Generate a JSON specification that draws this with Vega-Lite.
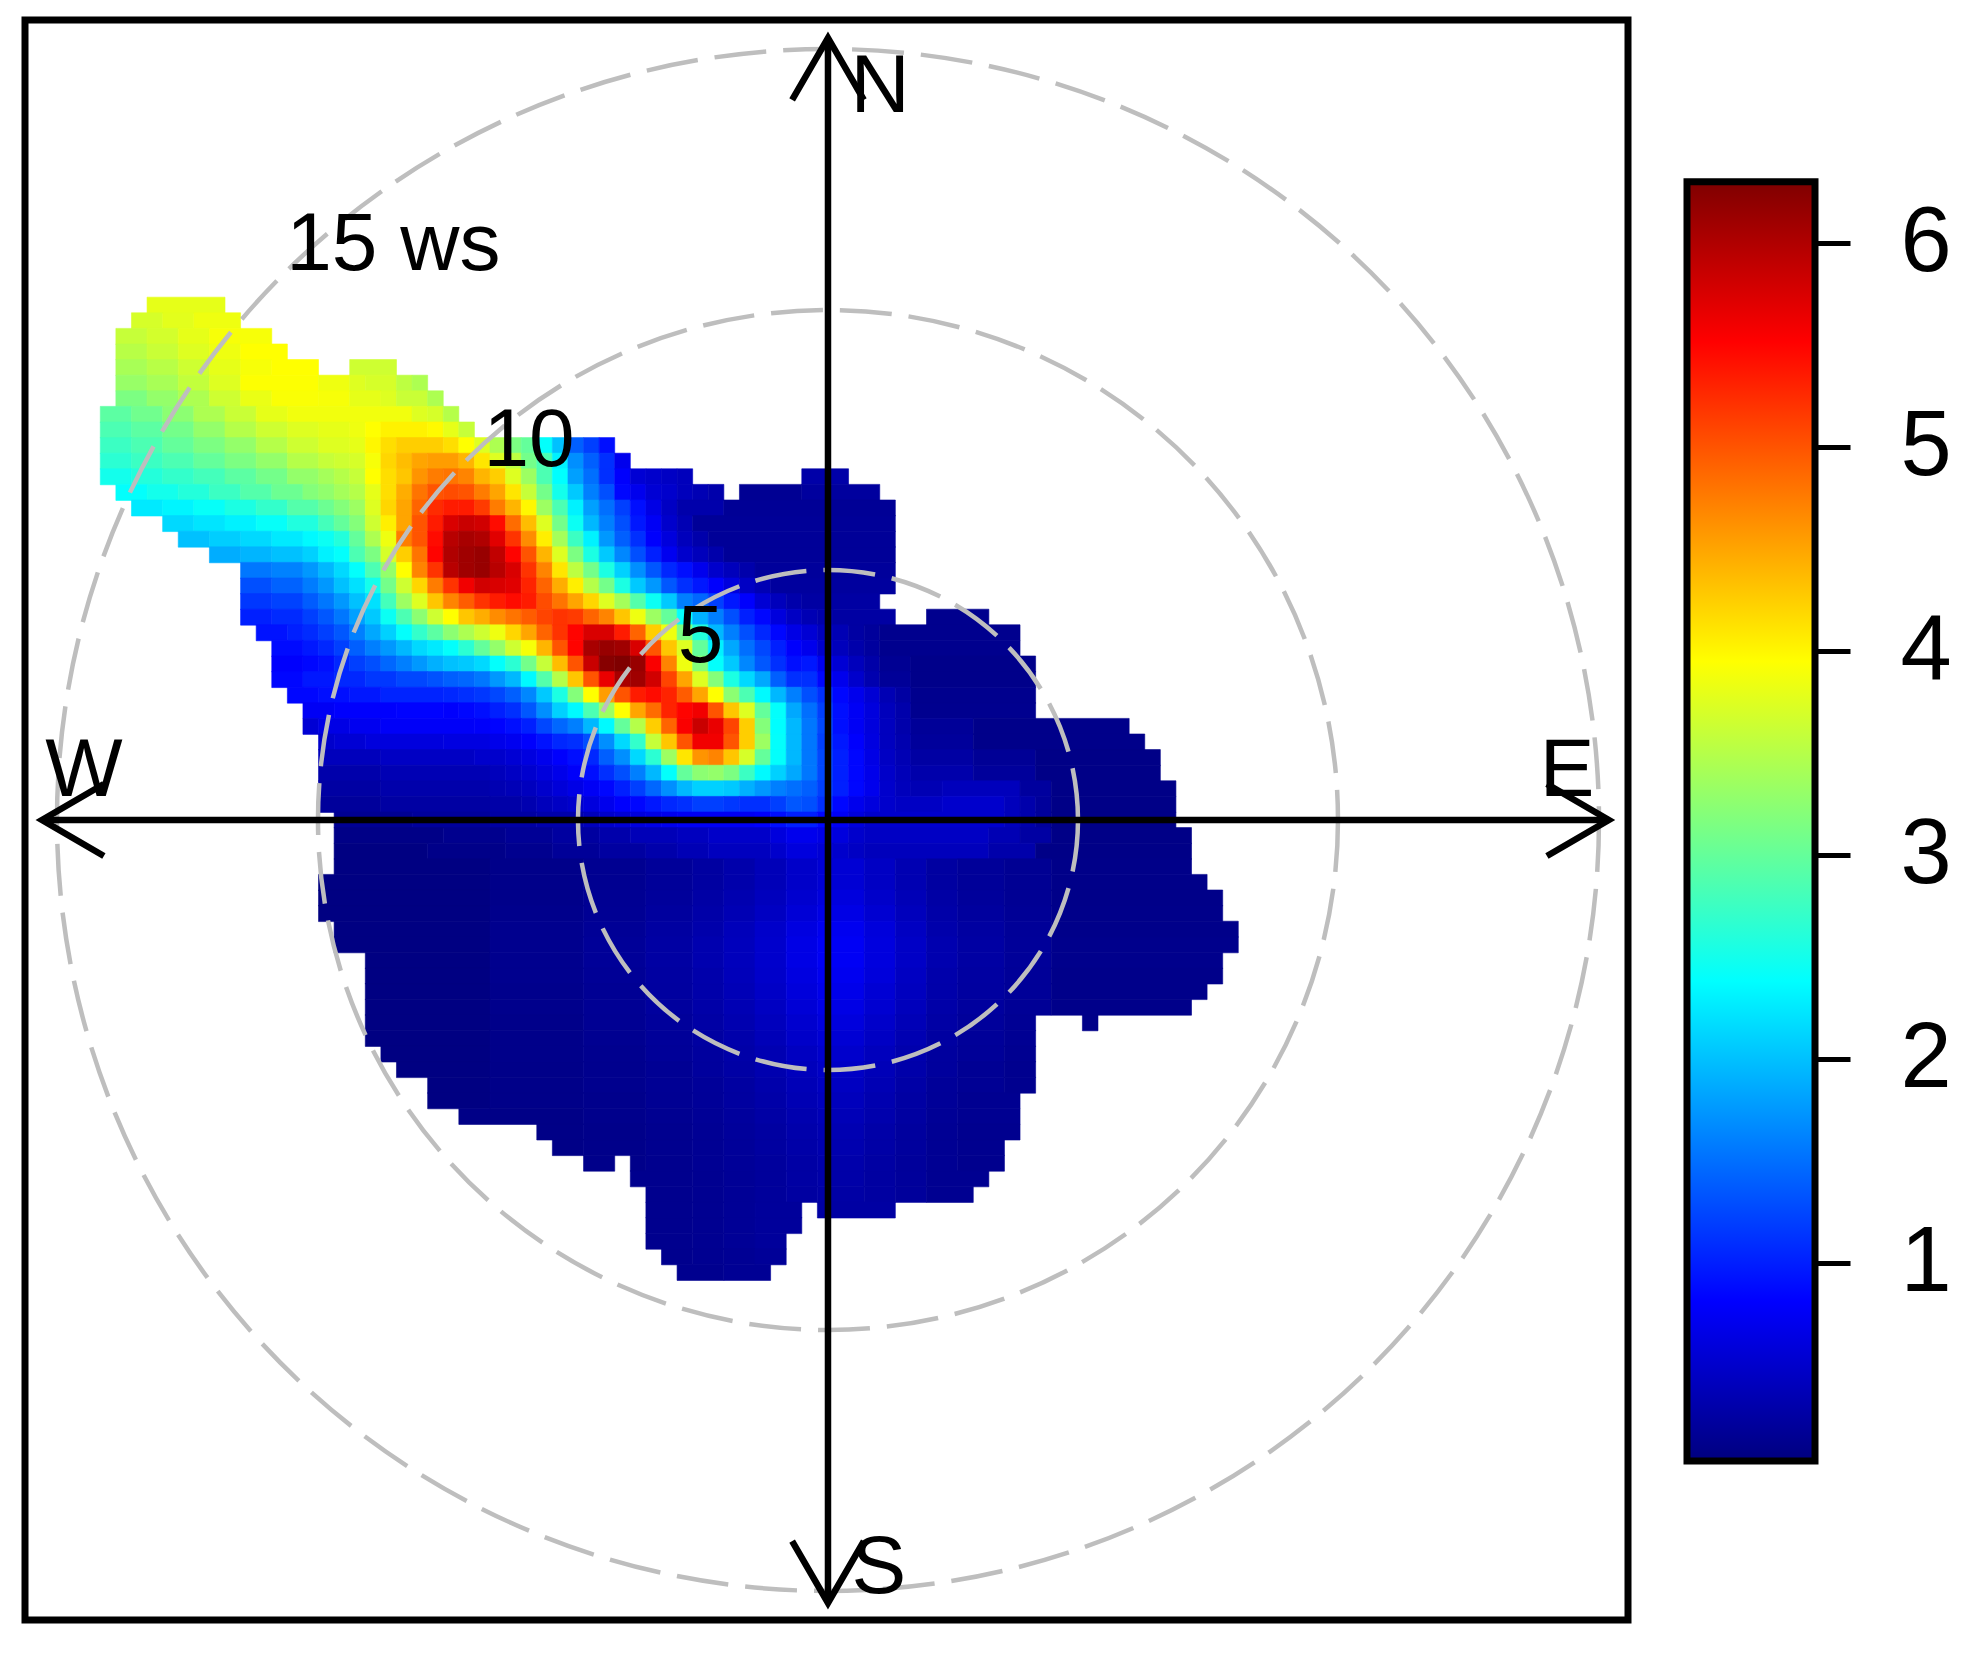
{
"$schema":"https://vega.github.io/schema/vega-lite/v6.json",
"padding":{"left":21,"top":16,"right":0,"bottom":0},
"bounds":"flush",
"spacing":59,
"background":"white",
"datasets":{
"cells":[
{"x":-43,"x2":-38,"y":33,"z":3.8},
{"x":-44,"x2":-42,"y":32,"z":3.7},{"x":-42,"x2":-40,"y":32,"z":3.78},{"x":-40,"x2":-37,"y":32,"z":3.85},
{"x":-45,"x2":-43,"y":31,"z":3.6},{"x":-43,"x2":-41,"y":31,"z":3.68},{"x":-41,"x2":-39,"y":31,"z":3.8},{"x":-39,"x2":-35,"y":31,"z":3.9},
{"x":-45,"x2":-43,"y":30,"z":3.52},{"x":-43,"x2":-41,"y":30,"z":3.62},{"x":-41,"x2":-39,"y":30,"z":3.75},{"x":-39,"x2":-37,"y":30,"z":3.85},{"x":-37,"x2":-34,"y":30,"z":3.95},
{"x":-45,"x2":-43,"y":29,"z":3.42},{"x":-43,"x2":-41,"y":29,"z":3.52},{"x":-41,"x2":-39,"y":29,"z":3.65},{"x":-39,"x2":-37,"y":29,"z":3.8},{"x":-37,"x2":-35,"y":29,"z":3.9},{"x":-35,"x2":-32,"y":29,"z":3.95},{"x":-30,"x2":-27,"y":29,"z":3.65},
{"x":-45,"x2":-43,"y":28,"z":3.32},{"x":-43,"x2":-41,"y":28,"z":3.42},{"x":-41,"x2":-39,"y":28,"z":3.58},{"x":-39,"x2":-37,"y":28,"z":3.75},{"x":-37,"x2":-32,"y":28,"z":3.94},{"x":-32,"x2":-30,"y":28,"z":3.85},{"x":-30,"x2":-29,"y":28,"z":3.75},{"x":-29,"x2":-27,"y":28,"z":3.7},{"x":-27,"x2":-26,"y":28,"z":3.55},{"x":-26,"x2":-25,"y":28,"z":3.45},
{"x":-45,"x2":-43,"y":27,"z":3.15},{"x":-43,"x2":-41,"y":27,"z":3.3},{"x":-41,"x2":-39,"y":27,"z":3.45},{"x":-39,"x2":-37,"y":27,"z":3.65},{"x":-37,"x2":-35,"y":27,"z":3.82},{"x":-35,"x2":-32,"y":27,"z":3.92},{"x":-32,"x2":-30,"y":27,"z":3.9},{"x":-30,"x2":-28,"y":27,"z":3.8},{"x":-28,"x2":-27,"y":27,"z":3.75},{"x":-27,"x2":-25,"y":27,"z":3.62},{"x":-25,"x2":-24,"y":27,"z":3.45},
{"x":-46,"x2":-44,"y":26,"z":2.95},{"x":-44,"x2":-42,"y":26,"z":3.08},{"x":-42,"x2":-40,"y":26,"z":3.25},{"x":-40,"x2":-38,"y":26,"z":3.45},{"x":-38,"x2":-36,"y":26,"z":3.62},{"x":-36,"x2":-34,"y":26,"z":3.8},{"x":-34,"x2":-26,"y":26,"z":3.87},{"x":-26,"x2":-25,"y":26,"z":3.75},{"x":-25,"x2":-24,"y":26,"z":3.7},{"x":-24,"x2":-23,"y":26,"z":3.5},
{"x":-46,"x2":-44,"y":25,"z":2.85},{"x":-44,"x2":-42,"y":25,"z":2.95},{"x":-42,"x2":-40,"y":25,"z":3.1},{"x":-40,"x2":-38,"y":25,"z":3.3},{"x":-38,"x2":-36,"y":25,"z":3.5},{"x":-36,"x2":-34,"y":25,"z":3.65},{"x":-34,"x2":-32,"y":25,"z":3.75},{"x":-32,"x2":-30,"y":25,"z":3.8},{"x":-30,"x2":-29,"y":25,"z":3.85},{"x":-29,"x2":-28,"y":25,"z":3.95},{"x":-28,"x2":-25,"y":25,"z":4.03},{"x":-25,"x2":-24,"y":25,"z":3.98},{"x":-24,"x2":-23,"y":25,"z":3.8},{"x":-23,"x2":-22,"y":25,"z":3.6},
{"x":-46,"x2":-44,"y":24,"z":2.75},{"x":-44,"x2":-42,"y":24,"z":2.85},{"x":-42,"x2":-40,"y":24,"z":3.0},{"x":-40,"x2":-38,"y":24,"z":3.15},{"x":-38,"x2":-36,"y":24,"z":3.3},{"x":-36,"x2":-34,"y":24,"z":3.5},{"x":-34,"x2":-32,"y":24,"z":3.65},{"x":-32,"x2":-30,"y":24,"z":3.75},{"x":-30,"x2":-29,"y":24,"z":3.8},{"x":-29,"x2":-28,"y":24,"z":4.0},{"x":-28,"x2":-27,"y":24,"z":4.15},{"x":-27,"x2":-24,"y":24,"z":4.25},{"x":-24,"x2":-23,"y":24,"z":4.15},{"x":-23,"x2":-22,"y":24,"z":3.95},{"x":-22,"x2":-21,"y":24,"z":3.75},{"x":-21,"x2":-20,"y":24,"z":3.45},{"x":-20,"x2":-19,"y":24,"z":3.15},{"x":-19,"x2":-18,"y":24,"z":3.0},{"x":-18,"x2":-17,"y":24,"z":2.4},{"x":-17,"x2":-16,"y":24,"z":2.0},{"x":-16,"x2":-15,"y":24,"z":1.4},{"x":-15,"x2":-14,"y":24,"z":1.2},{"x":-14,"x2":-13,"y":24,"z":0.9},
{"x":-46,"x2":-44,"y":23,"z":2.65},{"x":-44,"x2":-42,"y":23,"z":2.75},{"x":-42,"x2":-40,"y":23,"z":2.85},{"x":-40,"x2":-38,"y":23,"z":3.0},{"x":-38,"x2":-36,"y":23,"z":3.15},{"x":-36,"x2":-34,"y":23,"z":3.3},{"x":-34,"x2":-32,"y":23,"z":3.5},{"x":-32,"x2":-31,"y":23,"z":3.6},{"x":-31,"x2":-30,"y":23,"z":3.65},{"x":-30,"x2":-29,"y":23,"z":3.7},{"x":-29,"x2":-28,"y":23,"z":3.9},{"x":-28,"x2":-27,"y":23,"z":4.2},{"x":-27,"x2":-26,"y":23,"z":4.35},{"x":-26,"x2":-25,"y":23,"z":4.5},{"x":-25,"x2":-23,"y":23,"z":4.55},{"x":-23,"x2":-22,"y":23,"z":4.4},{"x":-22,"x2":-21,"y":23,"z":4.1},{"x":-21,"x2":-20,"y":23,"z":3.75},{"x":-20,"x2":-19,"y":23,"z":3.55},{"x":-19,"x2":-18,"y":23,"z":3.1},{"x":-18,"x2":-17,"y":23,"z":2.85},{"x":-17,"x2":-16,"y":23,"z":2.3},{"x":-16,"x2":-15,"y":23,"z":1.7},{"x":-15,"x2":-14,"y":23,"z":1.4},{"x":-14,"x2":-13,"y":23,"z":1.1},{"x":-13,"x2":-12,"y":23,"z":0.7},
{"x":-46,"x2":-44,"y":22,"z":2.5},{"x":-44,"x2":-42,"y":22,"z":2.6},{"x":-42,"x2":-40,"y":22,"z":2.7},{"x":-40,"x2":-38,"y":22,"z":2.8},{"x":-38,"x2":-36,"y":22,"z":2.95},{"x":-36,"x2":-34,"y":22,"z":3.1},{"x":-34,"x2":-32,"y":22,"z":3.3},{"x":-32,"x2":-31,"y":22,"z":3.4},{"x":-31,"x2":-30,"y":22,"z":3.5},{"x":-30,"x2":-29,"y":22,"z":3.6},{"x":-29,"x2":-28,"y":22,"z":3.95},{"x":-28,"x2":-27,"y":22,"z":4.15},{"x":-27,"x2":-26,"y":22,"z":4.3},{"x":-26,"x2":-25,"y":22,"z":4.6},{"x":-25,"x2":-24,"y":22,"z":4.75},{"x":-24,"x2":-23,"y":22,"z":4.8},{"x":-23,"x2":-22,"y":22,"z":4.7},{"x":-22,"x2":-21,"y":22,"z":4.4},{"x":-21,"x2":-20,"y":22,"z":4.25},{"x":-20,"x2":-19,"y":22,"z":3.75},{"x":-19,"x2":-18,"y":22,"z":3.35},{"x":-18,"x2":-17,"y":22,"z":2.85},{"x":-17,"x2":-16,"y":22,"z":2.38},{"x":-16,"x2":-15,"y":22,"z":1.8},{"x":-15,"x2":-14,"y":22,"z":1.5},{"x":-14,"x2":-13,"y":22,"z":1.1},{"x":-13,"x2":-12,"y":22,"z":0.8},{"x":-12,"x2":-11,"y":22,"z":0.55},{"x":-11,"x2":-10,"y":22,"z":0.5},{"x":-10,"x2":-9,"y":22,"z":0.45},{"x":-9,"x2":-8,"y":22,"z":0.4},{"x":-1,"x2":2,"y":22,"z":0.28},
{"x":-45,"x2":-43,"y":21,"z":2.4},{"x":-43,"x2":-41,"y":21,"z":2.5},{"x":-41,"x2":-39,"y":21,"z":2.6},{"x":-39,"x2":-37,"y":21,"z":2.75},{"x":-37,"x2":-35,"y":21,"z":2.9},{"x":-35,"x2":-33,"y":21,"z":3.05},{"x":-33,"x2":-32,"y":21,"z":3.2},{"x":-32,"x2":-31,"y":21,"z":3.28},{"x":-31,"x2":-30,"y":21,"z":3.4},{"x":-30,"x2":-29,"y":21,"z":3.5},{"x":-29,"x2":-28,"y":21,"z":3.8},{"x":-28,"x2":-27,"y":21,"z":4.15},{"x":-27,"x2":-26,"y":21,"z":4.45},{"x":-26,"x2":-25,"y":21,"z":4.8},{"x":-25,"x2":-24,"y":21,"z":5.0},{"x":-24,"x2":-23,"y":21,"z":5.05},{"x":-23,"x2":-22,"y":21,"z":5.0},{"x":-22,"x2":-21,"y":21,"z":4.75},{"x":-21,"x2":-20,"y":21,"z":4.5},{"x":-20,"x2":-19,"y":21,"z":4.1},{"x":-19,"x2":-18,"y":21,"z":3.6},{"x":-18,"x2":-17,"y":21,"z":3.1},{"x":-17,"x2":-16,"y":21,"z":2.5},{"x":-16,"x2":-15,"y":21,"z":2.05},{"x":-15,"x2":-14,"y":21,"z":1.6},{"x":-14,"x2":-13,"y":21,"z":1.3},{"x":-13,"x2":-12,"y":21,"z":0.85},{"x":-12,"x2":-11,"y":21,"z":0.7},{"x":-11,"x2":-10,"y":21,"z":0.55},{"x":-10,"x2":-9,"y":21,"z":0.5},{"x":-9,"x2":-8,"y":21,"z":0.4},{"x":-8,"x2":-7,"y":21,"z":0.35},{"x":-7,"x2":-6,"y":21,"z":0.3},{"x":-5,"x2":-1,"y":21,"z":0.15},{"x":-1,"x2":4,"y":21,"z":0.22},
{"x":-44,"x2":-42,"y":20,"z":2.25},{"x":-42,"x2":-40,"y":20,"z":2.32},{"x":-40,"x2":-38,"y":20,"z":2.42},{"x":-38,"x2":-36,"y":20,"z":2.55},{"x":-36,"x2":-34,"y":20,"z":2.7},{"x":-34,"x2":-32,"y":20,"z":2.9},{"x":-32,"x2":-31,"y":20,"z":3.05},{"x":-31,"x2":-30,"y":20,"z":3.2},{"x":-30,"x2":-29,"y":20,"z":3.35},{"x":-29,"x2":-28,"y":20,"z":3.75},{"x":-28,"x2":-27,"y":20,"z":4.2},{"x":-27,"x2":-26,"y":20,"z":4.5},{"x":-26,"x2":-25,"y":20,"z":4.9},{"x":-25,"x2":-24,"y":20,"z":5.25},{"x":-24,"x2":-23,"y":20,"z":5.35},{"x":-23,"x2":-22,"y":20,"z":5.35},{"x":-22,"x2":-21,"y":20,"z":5.15},{"x":-21,"x2":-20,"y":20,"z":4.75},{"x":-20,"x2":-19,"y":20,"z":4.4},{"x":-19,"x2":-18,"y":20,"z":4.0},{"x":-18,"x2":-17,"y":20,"z":3.35},{"x":-17,"x2":-16,"y":20,"z":2.85},{"x":-16,"x2":-15,"y":20,"z":2.3},{"x":-15,"x2":-14,"y":20,"z":1.8},{"x":-14,"x2":-13,"y":20,"z":1.5},{"x":-13,"x2":-12,"y":20,"z":1.2},{"x":-12,"x2":-11,"y":20,"z":0.9},{"x":-11,"x2":-10,"y":20,"z":0.65},{"x":-10,"x2":-9,"y":20,"z":0.45},{"x":-9,"x2":-6,"y":20,"z":0.3},{"x":-6,"x2":5,"y":20,"z":0.17},
{"x":-42,"x2":-40,"y":19,"z":2.15},{"x":-40,"x2":-38,"y":19,"z":2.22},{"x":-38,"x2":-36,"y":19,"z":2.3},{"x":-36,"x2":-34,"y":19,"z":2.42},{"x":-34,"x2":-32,"y":19,"z":2.58},{"x":-32,"x2":-31,"y":19,"z":2.8},{"x":-31,"x2":-30,"y":19,"z":3.0},{"x":-30,"x2":-29,"y":19,"z":3.2},{"x":-29,"x2":-28,"y":19,"z":3.65},{"x":-28,"x2":-27,"y":19,"z":4.05},{"x":-27,"x2":-26,"y":19,"z":4.5},{"x":-26,"x2":-25,"y":19,"z":5.0},{"x":-25,"x2":-24,"y":19,"z":5.35},{"x":-24,"x2":-23,"y":19,"z":5.75},{"x":-23,"x2":-22,"y":19,"z":5.85},{"x":-22,"x2":-21,"y":19,"z":5.8},{"x":-21,"x2":-20,"y":19,"z":5.45},{"x":-20,"x2":-19,"y":19,"z":4.85},{"x":-19,"x2":-18,"y":19,"z":4.35},{"x":-18,"x2":-17,"y":19,"z":3.75},{"x":-17,"x2":-16,"y":19,"z":3.1},{"x":-16,"x2":-15,"y":19,"z":2.45},{"x":-15,"x2":-14,"y":19,"z":1.95},{"x":-14,"x2":-13,"y":19,"z":1.6},{"x":-13,"x2":-12,"y":19,"z":1.3},{"x":-12,"x2":-11,"y":19,"z":0.95},{"x":-11,"x2":-10,"y":19,"z":0.75},{"x":-10,"x2":-9,"y":19,"z":0.5},{"x":-9,"x2":-8,"y":19,"z":0.35},{"x":-8,"x2":5,"y":19,"z":0.18},
{"x":-41,"x2":-39,"y":18,"z":2.0},{"x":-39,"x2":-37,"y":18,"z":2.08},{"x":-37,"x2":-35,"y":18,"z":2.15},{"x":-35,"x2":-33,"y":18,"z":2.25},{"x":-33,"x2":-32,"y":18,"z":2.35},{"x":-32,"x2":-31,"y":18,"z":2.45},{"x":-31,"x2":-30,"y":18,"z":2.6},{"x":-30,"x2":-29,"y":18,"z":3.0},{"x":-29,"x2":-28,"y":18,"z":3.45},{"x":-28,"x2":-27,"y":18,"z":3.85},{"x":-27,"x2":-26,"y":18,"z":4.75},{"x":-26,"x2":-25,"y":18,"z":5.0},{"x":-25,"x2":-24,"y":18,"z":5.45},{"x":-24,"x2":-23,"y":18,"z":5.95},{"x":-23,"x2":-22,"y":18,"z":6.05},{"x":-22,"x2":-21,"y":18,"z":6.0},{"x":-21,"x2":-20,"y":18,"z":5.7},{"x":-20,"x2":-19,"y":18,"z":5.2},{"x":-19,"x2":-18,"y":18,"z":4.65},{"x":-18,"x2":-17,"y":18,"z":4.05},{"x":-17,"x2":-16,"y":18,"z":3.4},{"x":-16,"x2":-15,"y":18,"z":2.75},{"x":-15,"x2":-14,"y":18,"z":2.3},{"x":-14,"x2":-13,"y":18,"z":1.75},{"x":-13,"x2":-12,"y":18,"z":1.4},{"x":-12,"x2":-11,"y":18,"z":1.1},{"x":-11,"x2":-10,"y":18,"z":0.8},{"x":-10,"x2":-9,"y":18,"z":0.6},{"x":-9,"x2":-8,"y":18,"z":0.4},{"x":-8,"x2":-7,"y":18,"z":0.3},{"x":-7,"x2":5,"y":18,"z":0.18},
{"x":-39,"x2":-37,"y":17,"z":1.88},{"x":-37,"x2":-35,"y":17,"z":1.93},{"x":-35,"x2":-33,"y":17,"z":2.0},{"x":-33,"x2":-32,"y":17,"z":2.1},{"x":-32,"x2":-31,"y":17,"z":2.3},{"x":-31,"x2":-30,"y":17,"z":2.4},{"x":-30,"x2":-29,"y":17,"z":2.85},{"x":-29,"x2":-28,"y":17,"z":3.15},{"x":-28,"x2":-27,"y":17,"z":3.7},{"x":-27,"x2":-26,"y":17,"z":4.25},{"x":-26,"x2":-25,"y":17,"z":4.8},{"x":-25,"x2":-24,"y":17,"z":5.5},{"x":-24,"x2":-23,"y":17,"z":6.0},{"x":-23,"x2":-22,"y":17,"z":6.1},{"x":-22,"x2":-21,"y":17,"z":6.15},{"x":-21,"x2":-20,"y":17,"z":5.9},{"x":-20,"x2":-19,"y":17,"z":5.5},{"x":-19,"x2":-18,"y":17,"z":5.0},{"x":-18,"x2":-17,"y":17,"z":4.4},{"x":-17,"x2":-16,"y":17,"z":3.75},{"x":-16,"x2":-15,"y":17,"z":3.15},{"x":-15,"x2":-14,"y":17,"z":2.55},{"x":-14,"x2":-13,"y":17,"z":2.05},{"x":-13,"x2":-12,"y":17,"z":1.65},{"x":-12,"x2":-11,"y":17,"z":1.3},{"x":-11,"x2":-10,"y":17,"z":1.0},{"x":-10,"x2":-9,"y":17,"z":0.72},{"x":-9,"x2":-8,"y":17,"z":0.5},{"x":-8,"x2":-7,"y":17,"z":0.4},{"x":-7,"x2":-6,"y":17,"z":0.3},{"x":-6,"x2":5,"y":17,"z":0.18},
{"x":-37,"x2":-35,"y":16,"z":1.55},{"x":-35,"x2":-33,"y":16,"z":1.62},{"x":-33,"x2":-32,"y":16,"z":1.75},{"x":-32,"x2":-31,"y":16,"z":1.95},{"x":-31,"x2":-30,"y":16,"z":2.15},{"x":-30,"x2":-29,"y":16,"z":2.4},{"x":-29,"x2":-28,"y":16,"z":2.85},{"x":-28,"x2":-27,"y":16,"z":3.3},{"x":-27,"x2":-26,"y":16,"z":3.95},{"x":-26,"x2":-25,"y":16,"z":4.7},{"x":-25,"x2":-24,"y":16,"z":5.2},{"x":-24,"x2":-23,"y":16,"z":5.95},{"x":-23,"x2":-22,"y":16,"z":6.1},{"x":-22,"x2":-21,"y":16,"z":6.15},{"x":-21,"x2":-20,"y":16,"z":5.95},{"x":-20,"x2":-19,"y":16,"z":5.75},{"x":-19,"x2":-18,"y":16,"z":5.2},{"x":-18,"x2":-17,"y":16,"z":4.7},{"x":-17,"x2":-16,"y":16,"z":4.1},{"x":-16,"x2":-15,"y":16,"z":3.55},{"x":-15,"x2":-14,"y":16,"z":3.1},{"x":-14,"x2":-13,"y":16,"z":2.55},{"x":-13,"x2":-12,"y":16,"z":2.1},{"x":-12,"x2":-11,"y":16,"z":1.7},{"x":-11,"x2":-10,"y":16,"z":1.35},{"x":-10,"x2":-9,"y":16,"z":1.05},{"x":-9,"x2":-8,"y":16,"z":0.9},{"x":-8,"x2":-7,"y":16,"z":0.7},{"x":-7,"x2":-6,"y":16,"z":0.5},{"x":-6,"x2":-5,"y":16,"z":0.4},{"x":-5,"x2":-4,"y":16,"z":0.3},{"x":-4,"x2":5,"y":16,"z":0.2},
{"x":-37,"x2":-35,"y":15,"z":1.3},{"x":-35,"x2":-33,"y":15,"z":1.42},{"x":-33,"x2":-32,"y":15,"z":1.58},{"x":-32,"x2":-31,"y":15,"z":1.75},{"x":-31,"x2":-30,"y":15,"z":2.0},{"x":-30,"x2":-29,"y":15,"z":2.2},{"x":-29,"x2":-28,"y":15,"z":2.5},{"x":-28,"x2":-27,"y":15,"z":3.1},{"x":-27,"x2":-26,"y":15,"z":3.65},{"x":-26,"x2":-25,"y":15,"z":4.2},{"x":-25,"x2":-24,"y":15,"z":4.75},{"x":-24,"x2":-23,"y":15,"z":5.2},{"x":-23,"x2":-22,"y":15,"z":5.6},{"x":-22,"x2":-21,"y":15,"z":5.8},{"x":-21,"x2":-20,"y":15,"z":5.75},{"x":-20,"x2":-19,"y":15,"z":5.7},{"x":-19,"x2":-18,"y":15,"z":5.3},{"x":-18,"x2":-17,"y":15,"z":4.9},{"x":-17,"x2":-16,"y":15,"z":4.45},{"x":-16,"x2":-15,"y":15,"z":4.05},{"x":-15,"x2":-14,"y":15,"z":3.5},{"x":-14,"x2":-13,"y":15,"z":3.1},{"x":-13,"x2":-12,"y":15,"z":2.55},{"x":-12,"x2":-11,"y":15,"z":2.05},{"x":-11,"x2":-10,"y":15,"z":1.75},{"x":-10,"x2":-9,"y":15,"z":1.35},{"x":-9,"x2":-8,"y":15,"z":1.1},{"x":-8,"x2":-7,"y":15,"z":0.95},{"x":-7,"x2":-6,"y":15,"z":0.8},{"x":-6,"x2":-5,"y":15,"z":0.6},{"x":-5,"x2":-4,"y":15,"z":0.45},{"x":-4,"x2":-3,"y":15,"z":0.35},{"x":-3,"x2":5,"y":15,"z":0.22},
{"x":-37,"x2":-35,"y":14,"z":1.15},{"x":-35,"x2":-33,"y":14,"z":1.22},{"x":-33,"x2":-32,"y":14,"z":1.38},{"x":-32,"x2":-31,"y":14,"z":1.55},{"x":-31,"x2":-30,"y":14,"z":1.75},{"x":-30,"x2":-29,"y":14,"z":2.0},{"x":-29,"x2":-28,"y":14,"z":2.2},{"x":-28,"x2":-27,"y":14,"z":2.8},{"x":-27,"x2":-26,"y":14,"z":3.35},{"x":-26,"x2":-25,"y":14,"z":3.75},{"x":-25,"x2":-24,"y":14,"z":4.3},{"x":-24,"x2":-23,"y":14,"z":4.7},{"x":-23,"x2":-22,"y":14,"z":4.95},{"x":-22,"x2":-21,"y":14,"z":5.2},{"x":-21,"x2":-20,"y":14,"z":5.35},{"x":-20,"x2":-19,"y":14,"z":5.45},{"x":-19,"x2":-18,"y":14,"z":5.35},{"x":-18,"x2":-17,"y":14,"z":5.05},{"x":-17,"x2":-16,"y":14,"z":4.8},{"x":-16,"x2":-15,"y":14,"z":4.5},{"x":-15,"x2":-14,"y":14,"z":4.2},{"x":-14,"x2":-13,"y":14,"z":3.75},{"x":-13,"x2":-12,"y":14,"z":3.4},{"x":-12,"x2":-11,"y":14,"z":2.9},{"x":-11,"x2":-10,"y":14,"z":2.45},{"x":-10,"x2":-9,"y":14,"z":2.05},{"x":-9,"x2":-8,"y":14,"z":1.6},{"x":-8,"x2":-7,"y":14,"z":1.45},{"x":-7,"x2":-6,"y":14,"z":1.2},{"x":-6,"x2":-5,"y":14,"z":0.95},{"x":-5,"x2":-4,"y":14,"z":0.8},{"x":-4,"x2":-3,"y":14,"z":0.55},{"x":-3,"x2":-2,"y":14,"z":0.4},{"x":-2,"x2":-1,"y":14,"z":0.3},{"x":-1,"x2":4,"y":14,"z":0.25},
{"x":-37,"x2":-35,"y":13,"z":1.0},{"x":-35,"x2":-33,"y":13,"z":1.07},{"x":-33,"x2":-32,"y":13,"z":1.2},{"x":-32,"x2":-31,"y":13,"z":1.35},{"x":-31,"x2":-30,"y":13,"z":1.55},{"x":-30,"x2":-29,"y":13,"z":1.8},{"x":-29,"x2":-28,"y":13,"z":2.05},{"x":-28,"x2":-27,"y":13,"z":2.45},{"x":-27,"x2":-26,"y":13,"z":2.85},{"x":-26,"x2":-25,"y":13,"z":3.25},{"x":-25,"x2":-24,"y":13,"z":3.65},{"x":-24,"x2":-23,"y":13,"z":3.95},{"x":-23,"x2":-22,"y":13,"z":4.3},{"x":-22,"x2":-21,"y":13,"z":4.45},{"x":-21,"x2":-20,"y":13,"z":4.65},{"x":-20,"x2":-19,"y":13,"z":4.8},{"x":-19,"x2":-18,"y":13,"z":4.95},{"x":-18,"x2":-17,"y":13,"z":5.1},{"x":-17,"x2":-16,"y":13,"z":5.2},{"x":-16,"x2":-15,"y":13,"z":5.15},{"x":-15,"x2":-14,"y":13,"z":4.9},{"x":-14,"x2":-13,"y":13,"z":4.7},{"x":-13,"x2":-12,"y":13,"z":4.3},{"x":-12,"x2":-11,"y":13,"z":3.85},{"x":-11,"x2":-10,"y":13,"z":3.35},{"x":-10,"x2":-9,"y":13,"z":3.0},{"x":-9,"x2":-8,"y":13,"z":2.4},{"x":-8,"x2":-7,"y":13,"z":1.9},{"x":-7,"x2":-6,"y":13,"z":1.6},{"x":-6,"x2":-5,"y":13,"z":1.3},{"x":-5,"x2":-4,"y":13,"z":1.0},{"x":-4,"x2":-3,"y":13,"z":0.85},{"x":-3,"x2":-2,"y":13,"z":0.6},{"x":-2,"x2":-1,"y":13,"z":0.45},{"x":-1,"x2":0,"y":13,"z":0.35},{"x":0,"x2":1,"y":13,"z":0.3},{"x":1,"x2":5,"y":13,"z":0.25},{"x":7,"x2":11,"y":13,"z":0.12},
{"x":-36,"x2":-34,"y":12,"z":0.92},{"x":-34,"x2":-33,"y":12,"z":1.0},{"x":-33,"x2":-32,"y":12,"z":1.08},{"x":-32,"x2":-31,"y":12,"z":1.2},{"x":-31,"x2":-30,"y":12,"z":1.35},{"x":-30,"x2":-29,"y":12,"z":1.6},{"x":-29,"x2":-28,"y":12,"z":1.85},{"x":-28,"x2":-27,"y":12,"z":2.1},{"x":-27,"x2":-26,"y":12,"z":2.4},{"x":-26,"x2":-25,"y":12,"z":2.7},{"x":-25,"x2":-24,"y":12,"z":2.95},{"x":-24,"x2":-23,"y":12,"z":3.25},{"x":-23,"x2":-22,"y":12,"z":3.45},{"x":-22,"x2":-21,"y":12,"z":3.65},{"x":-21,"x2":-20,"y":12,"z":3.85},{"x":-20,"x2":-19,"y":12,"z":4.2},{"x":-19,"x2":-18,"y":12,"z":4.5},{"x":-18,"x2":-17,"y":12,"z":4.9},{"x":-17,"x2":-16,"y":12,"z":5.2},{"x":-16,"x2":-15,"y":12,"z":5.5},{"x":-15,"x2":-13,"y":12,"z":5.75},{"x":-13,"x2":-12,"y":12,"z":5.35},{"x":-12,"x2":-11,"y":12,"z":4.9},{"x":-11,"x2":-10,"y":12,"z":4.25},{"x":-10,"x2":-9,"y":12,"z":3.85},{"x":-9,"x2":-8,"y":12,"z":3.15},{"x":-8,"x2":-7,"y":12,"z":2.6},{"x":-7,"x2":-6,"y":12,"z":1.95},{"x":-6,"x2":-5,"y":12,"z":1.6},{"x":-5,"x2":-4,"y":12,"z":1.3},{"x":-4,"x2":-3,"y":12,"z":1.05},{"x":-3,"x2":-2,"y":12,"z":0.85},{"x":-2,"x2":-1,"y":12,"z":0.65},{"x":-1,"x2":0,"y":12,"z":0.55},{"x":0,"x2":1,"y":12,"z":0.4},{"x":1,"x2":2,"y":12,"z":0.35},{"x":2,"x2":3,"y":12,"z":0.25},{"x":3,"x2":4,"y":12,"z":0.2},{"x":4,"x2":13,"y":12,"z":0.12},
{"x":-35,"x2":-33,"y":11,"z":0.87},{"x":-33,"x2":-32,"y":11,"z":0.95},{"x":-32,"x2":-31,"y":11,"z":1.05},{"x":-31,"x2":-30,"y":11,"z":1.2},{"x":-30,"x2":-29,"y":11,"z":1.4},{"x":-29,"x2":-28,"y":11,"z":1.6},{"x":-28,"x2":-27,"y":11,"z":1.75},{"x":-27,"x2":-26,"y":11,"z":1.95},{"x":-26,"x2":-25,"y":11,"z":2.15},{"x":-25,"x2":-24,"y":11,"z":2.25},{"x":-24,"x2":-23,"y":11,"z":2.4},{"x":-23,"x2":-22,"y":11,"z":2.65},{"x":-22,"x2":-21,"y":11,"z":3.0},{"x":-21,"x2":-20,"y":11,"z":3.3},{"x":-20,"x2":-19,"y":11,"z":3.65},{"x":-19,"x2":-18,"y":11,"z":3.9},{"x":-18,"x2":-17,"y":11,"z":4.4},{"x":-17,"x2":-16,"y":11,"z":5.0},{"x":-16,"x2":-15,"y":11,"z":5.5},{"x":-15,"x2":-14,"y":11,"z":6.05},{"x":-14,"x2":-13,"y":11,"z":6.15},{"x":-13,"x2":-12,"y":11,"z":6.1},{"x":-12,"x2":-11,"y":11,"z":5.75},{"x":-11,"x2":-10,"y":11,"z":5.0},{"x":-10,"x2":-9,"y":11,"z":4.3},{"x":-9,"x2":-8,"y":11,"z":3.75},{"x":-8,"x2":-7,"y":11,"z":3.0},{"x":-7,"x2":-6,"y":11,"z":2.3},{"x":-6,"x2":-5,"y":11,"z":1.85},{"x":-5,"x2":-4,"y":11,"z":1.5},{"x":-4,"x2":-3,"y":11,"z":1.25},{"x":-3,"x2":-2,"y":11,"z":1.0},{"x":-2,"x2":-1,"y":11,"z":0.8},{"x":-1,"x2":0,"y":11,"z":0.7},{"x":0,"x2":1,"y":11,"z":0.5},{"x":1,"x2":2,"y":11,"z":0.4},{"x":2,"x2":3,"y":11,"z":0.3},{"x":3,"x2":4,"y":11,"z":0.22},{"x":4,"x2":13,"y":11,"z":0.12},
{"x":-35,"x2":-33,"y":10,"z":0.8},{"x":-33,"x2":-32,"y":10,"z":0.85},{"x":-32,"x2":-31,"y":10,"z":0.9},{"x":-31,"x2":-30,"y":10,"z":1.05},{"x":-30,"x2":-29,"y":10,"z":1.2},{"x":-29,"x2":-28,"y":10,"z":1.3},{"x":-28,"x2":-27,"y":10,"z":1.45},{"x":-27,"x2":-26,"y":10,"z":1.6},{"x":-26,"x2":-25,"y":10,"z":1.75},{"x":-25,"x2":-24,"y":10,"z":1.9},{"x":-24,"x2":-23,"y":10,"z":2.0},{"x":-23,"x2":-22,"y":10,"z":2.05},{"x":-22,"x2":-21,"y":10,"z":2.15},{"x":-21,"x2":-20,"y":10,"z":2.4},{"x":-20,"x2":-19,"y":10,"z":2.65},{"x":-19,"x2":-18,"y":10,"z":3.1},{"x":-18,"x2":-17,"y":10,"z":3.6},{"x":-17,"x2":-16,"y":10,"z":4.35},{"x":-16,"x2":-15,"y":10,"z":5.0},{"x":-15,"x2":-14,"y":10,"z":5.85},{"x":-14,"x2":-13,"y":10,"z":6.25},{"x":-13,"x2":-12,"y":10,"z":6.3},{"x":-12,"x2":-11,"y":10,"z":6.15},{"x":-11,"x2":-10,"y":10,"z":5.55},{"x":-10,"x2":-9,"y":10,"z":4.7},{"x":-9,"x2":-8,"y":10,"z":3.85},{"x":-8,"x2":-7,"y":10,"z":3.2},{"x":-7,"x2":-6,"y":10,"z":2.4},{"x":-6,"x2":-5,"y":10,"z":2.05},{"x":-5,"x2":-4,"y":10,"z":1.65},{"x":-4,"x2":-3,"y":10,"z":1.35},{"x":-3,"x2":-2,"y":10,"z":1.1},{"x":-2,"x2":-1,"y":10,"z":0.9},{"x":-1,"x2":0,"y":10,"z":0.95},{"x":0,"x2":1,"y":10,"z":0.7},{"x":1,"x2":2,"y":10,"z":0.55},{"x":2,"x2":3,"y":10,"z":0.4},{"x":3,"x2":4,"y":10,"z":0.28},{"x":4,"x2":6,"y":10,"z":0.15},{"x":6,"x2":14,"y":10,"z":0.1},
{"x":-35,"x2":-33,"y":9,"z":0.85},{"x":-33,"x2":-31,"y":9,"z":0.95},{"x":-31,"x2":-29,"y":9,"z":1.05},{"x":-29,"x2":-27,"y":9,"z":1.15},{"x":-27,"x2":-25,"y":9,"z":1.25},{"x":-25,"x2":-24,"y":9,"z":1.32},{"x":-24,"x2":-23,"y":9,"z":1.4},{"x":-23,"x2":-22,"y":9,"z":1.45},{"x":-22,"x2":-21,"y":9,"z":1.55},{"x":-21,"x2":-20,"y":9,"z":1.75},{"x":-20,"x2":-19,"y":9,"z":1.95},{"x":-19,"x2":-18,"y":9,"z":2.35},{"x":-18,"x2":-17,"y":9,"z":2.9},{"x":-17,"x2":-16,"y":9,"z":3.5},{"x":-16,"x2":-15,"y":9,"z":4.3},{"x":-15,"x2":-14,"y":9,"z":5.0},{"x":-14,"x2":-13,"y":9,"z":5.65},{"x":-13,"x2":-12,"y":9,"z":6.05},{"x":-12,"x2":-11,"y":9,"z":6.1},{"x":-11,"x2":-10,"y":9,"z":5.8},{"x":-10,"x2":-9,"y":9,"z":5.1},{"x":-9,"x2":-8,"y":9,"z":4.5},{"x":-8,"x2":-7,"y":9,"z":3.75},{"x":-7,"x2":-6,"y":9,"z":3.2},{"x":-6,"x2":-5,"y":9,"z":2.55},{"x":-5,"x2":-4,"y":9,"z":2.15},{"x":-4,"x2":-3,"y":9,"z":1.85},{"x":-3,"x2":-2,"y":9,"z":1.4},{"x":-2,"x2":-1,"y":9,"z":1.1},{"x":-1,"x2":0,"y":9,"z":1.1},{"x":0,"x2":1,"y":9,"z":0.85},{"x":1,"x2":2,"y":9,"z":0.7},{"x":2,"x2":3,"y":9,"z":0.5},{"x":3,"x2":4,"y":9,"z":0.32},{"x":4,"x2":6,"y":9,"z":0.18},{"x":6,"x2":14,"y":9,"z":0.1},
{"x":-34,"x2":-32,"y":8,"z":0.85},{"x":-32,"x2":-30,"y":8,"z":0.9},{"x":-30,"x2":-28,"y":8,"z":0.95},{"x":-28,"x2":-24,"y":8,"z":1.03},{"x":-24,"x2":-23,"y":8,"z":1.05},{"x":-23,"x2":-22,"y":8,"z":1.1},{"x":-22,"x2":-21,"y":8,"z":1.15},{"x":-21,"x2":-20,"y":8,"z":1.25},{"x":-20,"x2":-19,"y":8,"z":1.4},{"x":-19,"x2":-18,"y":8,"z":1.65},{"x":-18,"x2":-17,"y":8,"z":2.05},{"x":-17,"x2":-16,"y":8,"z":2.55},{"x":-16,"x2":-15,"y":8,"z":3.2},{"x":-15,"x2":-14,"y":8,"z":3.95},{"x":-14,"x2":-13,"y":8,"z":4.55},{"x":-13,"x2":-12,"y":8,"z":5.0},{"x":-12,"x2":-11,"y":8,"z":5.35},{"x":-11,"x2":-10,"y":8,"z":5.45},{"x":-10,"x2":-9,"y":8,"z":5.3},{"x":-9,"x2":-8,"y":8,"z":4.95},{"x":-8,"x2":-7,"y":8,"z":4.5},{"x":-7,"x2":-6,"y":8,"z":3.95},{"x":-6,"x2":-5,"y":8,"z":3.25},{"x":-5,"x2":-4,"y":8,"z":2.85},{"x":-4,"x2":-3,"y":8,"z":2.35},{"x":-3,"x2":-2,"y":8,"z":1.95},{"x":-2,"x2":-1,"y":8,"z":1.6},{"x":-1,"x2":0,"y":8,"z":1.3},{"x":0,"x2":1,"y":8,"z":1.1},{"x":1,"x2":2,"y":8,"z":0.85},{"x":2,"x2":3,"y":8,"z":0.7},{"x":3,"x2":4,"y":8,"z":0.55},{"x":4,"x2":5,"y":8,"z":0.35},{"x":5,"x2":6,"y":8,"z":0.25},{"x":6,"x2":14,"y":8,"z":0.12},
{"x":-33,"x2":-31,"y":7,"z":0.75},{"x":-31,"x2":-27,"y":7,"z":0.8},{"x":-27,"x2":-24,"y":7,"z":0.82},{"x":-24,"x2":-23,"y":7,"z":0.8},{"x":-23,"x2":-22,"y":7,"z":0.85},{"x":-22,"x2":-21,"y":7,"z":0.9},{"x":-21,"x2":-20,"y":7,"z":1.0},{"x":-20,"x2":-19,"y":7,"z":1.1},{"x":-19,"x2":-18,"y":7,"z":1.35},{"x":-18,"x2":-17,"y":7,"z":1.7},{"x":-17,"x2":-16,"y":7,"z":2.1},{"x":-16,"x2":-15,"y":7,"z":2.35},{"x":-15,"x2":-14,"y":7,"z":2.85},{"x":-14,"x2":-13,"y":7,"z":3.35},{"x":-13,"x2":-12,"y":7,"z":3.95},{"x":-12,"x2":-11,"y":7,"z":4.5},{"x":-11,"x2":-10,"y":7,"z":4.85},{"x":-10,"x2":-9,"y":7,"z":5.3},{"x":-9,"x2":-8,"y":7,"z":5.5},{"x":-8,"x2":-7,"y":7,"z":5.6},{"x":-7,"x2":-6,"y":7,"z":5.0},{"x":-6,"x2":-5,"y":7,"z":4.3},{"x":-5,"x2":-4,"y":7,"z":3.75},{"x":-4,"x2":-3,"y":7,"z":3.0},{"x":-3,"x2":-2,"y":7,"z":2.4},{"x":-2,"x2":-1,"y":7,"z":1.85},{"x":-1,"x2":0,"y":7,"z":1.5},{"x":0,"x2":1,"y":7,"z":1.2},{"x":1,"x2":2,"y":7,"z":0.9},{"x":2,"x2":3,"y":7,"z":0.75},{"x":3,"x2":4,"y":7,"z":0.6},{"x":4,"x2":5,"y":7,"z":0.4},{"x":5,"x2":6,"y":7,"z":0.3},{"x":6,"x2":14,"y":7,"z":0.13},
{"x":-33,"x2":-32,"y":6,"z":0.55},{"x":-32,"x2":-30,"y":6,"z":0.65},{"x":-30,"x2":-28,"y":6,"z":0.72},{"x":-28,"x2":-22,"y":6,"z":0.77},{"x":-22,"x2":-21,"y":6,"z":0.78},{"x":-21,"x2":-20,"y":6,"z":0.82},{"x":-20,"x2":-19,"y":6,"z":0.9},{"x":-19,"x2":-18,"y":6,"z":1.0},{"x":-18,"x2":-17,"y":6,"z":1.25},{"x":-17,"x2":-16,"y":6,"z":1.45},{"x":-16,"x2":-15,"y":6,"z":1.6},{"x":-15,"x2":-14,"y":6,"z":1.95},{"x":-14,"x2":-13,"y":6,"z":2.35},{"x":-13,"x2":-12,"y":6,"z":3.0},{"x":-12,"x2":-11,"y":6,"z":3.5},{"x":-11,"x2":-10,"y":6,"z":4.25},{"x":-10,"x2":-9,"y":6,"z":4.9},{"x":-9,"x2":-8,"y":6,"z":5.55},{"x":-8,"x2":-7,"y":6,"z":5.85},{"x":-7,"x2":-6,"y":6,"z":5.65},{"x":-6,"x2":-5,"y":6,"z":5.1},{"x":-5,"x2":-4,"y":6,"z":4.25},{"x":-4,"x2":-3,"y":6,"z":3.2},{"x":-3,"x2":-2,"y":6,"z":2.38},{"x":-2,"x2":-1,"y":6,"z":1.95},{"x":-1,"x2":0,"y":6,"z":1.55},{"x":0,"x2":1,"y":6,"z":1.25},{"x":1,"x2":2,"y":6,"z":0.9},{"x":2,"x2":3,"y":6,"z":0.75},{"x":3,"x2":4,"y":6,"z":0.6},{"x":4,"x2":5,"y":6,"z":0.42},{"x":5,"x2":6,"y":6,"z":0.3},{"x":6,"x2":10,"y":6,"z":0.18},{"x":10,"x2":20,"y":6,"z":0.1},
{"x":-32,"x2":-31,"y":5,"z":0.5},{"x":-31,"x2":-29,"y":5,"z":0.55},{"x":-29,"x2":-24,"y":5,"z":0.6},{"x":-24,"x2":-21,"y":5,"z":0.63},{"x":-21,"x2":-20,"y":5,"z":0.68},{"x":-20,"x2":-19,"y":5,"z":0.72},{"x":-19,"x2":-18,"y":5,"z":0.8},{"x":-18,"x2":-17,"y":5,"z":0.92},{"x":-17,"x2":-16,"y":5,"z":1.05},{"x":-16,"x2":-15,"y":5,"z":1.1},{"x":-15,"x2":-14,"y":5,"z":1.3},{"x":-14,"x2":-13,"y":5,"z":1.7},{"x":-13,"x2":-12,"y":5,"z":2.15},{"x":-12,"x2":-11,"y":5,"z":2.7},{"x":-11,"x2":-10,"y":5,"z":3.6},{"x":-10,"x2":-9,"y":5,"z":4.3},{"x":-9,"x2":-8,"y":5,"z":5.0},{"x":-8,"x2":-6,"y":5,"z":5.6},{"x":-6,"x2":-5,"y":5,"z":5.0},{"x":-5,"x2":-4,"y":5,"z":4.25},{"x":-4,"x2":-3,"y":5,"z":3.35},{"x":-3,"x2":-2,"y":5,"z":2.4},{"x":-2,"x2":-1,"y":5,"z":1.95},{"x":-1,"x2":0,"y":5,"z":1.55},{"x":0,"x2":1,"y":5,"z":1.2},{"x":1,"x2":2,"y":5,"z":0.95},{"x":2,"x2":3,"y":5,"z":0.8},{"x":3,"x2":4,"y":5,"z":0.62},{"x":4,"x2":5,"y":5,"z":0.42},{"x":5,"x2":6,"y":5,"z":0.32},{"x":6,"x2":10,"y":5,"z":0.2},{"x":10,"x2":21,"y":5,"z":0.1},
{"x":-32,"x2":-28,"y":4,"z":0.4},{"x":-28,"x2":-22,"y":4,"z":0.45},{"x":-22,"x2":-20,"y":4,"z":0.5},{"x":-20,"x2":-19,"y":4,"z":0.55},{"x":-19,"x2":-18,"y":4,"z":0.62},{"x":-18,"x2":-17,"y":4,"z":0.7},{"x":-17,"x2":-16,"y":4,"z":0.8},{"x":-16,"x2":-15,"y":4,"z":0.9},{"x":-15,"x2":-14,"y":4,"z":1.05},{"x":-14,"x2":-13,"y":4,"z":1.4},{"x":-13,"x2":-12,"y":4,"z":1.7},{"x":-12,"x2":-11,"y":4,"z":2.15},{"x":-11,"x2":-10,"y":4,"z":2.65},{"x":-10,"x2":-9,"y":4,"z":3.35},{"x":-9,"x2":-8,"y":4,"z":4.1},{"x":-8,"x2":-7,"y":4,"z":4.6},{"x":-7,"x2":-6,"y":4,"z":4.7},{"x":-6,"x2":-5,"y":4,"z":4.3},{"x":-5,"x2":-4,"y":4,"z":3.7},{"x":-4,"x2":-3,"y":4,"z":3.0},{"x":-3,"x2":-2,"y":4,"z":2.4},{"x":-2,"x2":-1,"y":4,"z":1.95},{"x":-1,"x2":0,"y":4,"z":1.55},{"x":0,"x2":1,"y":4,"z":1.25},{"x":1,"x2":2,"y":4,"z":1.0},{"x":2,"x2":3,"y":4,"z":0.85},{"x":3,"x2":4,"y":4,"z":0.65},{"x":4,"x2":5,"y":4,"z":0.45},{"x":5,"x2":6,"y":4,"z":0.35},{"x":6,"x2":10,"y":4,"z":0.25},{"x":10,"x2":14,"y":4,"z":0.17},{"x":14,"x2":22,"y":4,"z":0.08},
{"x":-32,"x2":-28,"y":3,"z":0.3},{"x":-28,"x2":-21,"y":3,"z":0.35},{"x":-21,"x2":-20,"y":3,"z":0.4},{"x":-20,"x2":-19,"y":3,"z":0.45},{"x":-19,"x2":-18,"y":3,"z":0.52},{"x":-18,"x2":-17,"y":3,"z":0.6},{"x":-17,"x2":-16,"y":3,"z":0.68},{"x":-16,"x2":-15,"y":3,"z":0.78},{"x":-15,"x2":-14,"y":3,"z":0.9},{"x":-14,"x2":-13,"y":3,"z":1.1},{"x":-13,"x2":-12,"y":3,"z":1.3},{"x":-12,"x2":-11,"y":3,"z":1.6},{"x":-11,"x2":-10,"y":3,"z":1.95},{"x":-10,"x2":-9,"y":3,"z":2.4},{"x":-9,"x2":-8,"y":3,"z":3.0},{"x":-8,"x2":-7,"y":3,"z":3.25},{"x":-7,"x2":-6,"y":3,"z":3.3},{"x":-6,"x2":-5,"y":3,"z":3.15},{"x":-5,"x2":-4,"y":3,"z":2.75},{"x":-4,"x2":-3,"y":3,"z":2.35},{"x":-3,"x2":-2,"y":3,"z":2.1},{"x":-2,"x2":-1,"y":3,"z":1.85},{"x":-1,"x2":0,"y":3,"z":1.55},{"x":0,"x2":1,"y":3,"z":1.25},{"x":1,"x2":2,"y":3,"z":1.0},{"x":2,"x2":3,"y":3,"z":0.85},{"x":3,"x2":4,"y":3,"z":0.68},{"x":4,"x2":5,"y":3,"z":0.48},{"x":5,"x2":6,"y":3,"z":0.38},{"x":6,"x2":10,"y":3,"z":0.3},{"x":10,"x2":14,"y":3,"z":0.2},{"x":14,"x2":22,"y":3,"z":0.08},
{"x":-32,"x2":-28,"y":2,"z":0.25},{"x":-28,"x2":-21,"y":2,"z":0.3},{"x":-21,"x2":-20,"y":2,"z":0.34},{"x":-20,"x2":-19,"y":2,"z":0.37},{"x":-19,"x2":-18,"y":2,"z":0.42},{"x":-18,"x2":-17,"y":2,"z":0.5},{"x":-17,"x2":-16,"y":2,"z":0.58},{"x":-16,"x2":-15,"y":2,"z":0.66},{"x":-15,"x2":-14,"y":2,"z":0.75},{"x":-14,"x2":-13,"y":2,"z":0.85},{"x":-13,"x2":-12,"y":2,"z":1.0},{"x":-12,"x2":-11,"y":2,"z":1.2},{"x":-11,"x2":-10,"y":2,"z":1.45},{"x":-10,"x2":-9,"y":2,"z":1.7},{"x":-9,"x2":-8,"y":2,"z":1.95},{"x":-8,"x2":-6,"y":2,"z":2.1},{"x":-6,"x2":-5,"y":2,"z":2.05},{"x":-5,"x2":-4,"y":2,"z":1.9},{"x":-4,"x2":-3,"y":2,"z":1.75},{"x":-3,"x2":-2,"y":2,"z":1.6},{"x":-2,"x2":-1,"y":2,"z":1.5},{"x":-1,"x2":0,"y":2,"z":1.4},{"x":0,"x2":1,"y":2,"z":1.2},{"x":1,"x2":2,"y":2,"z":1.0},{"x":2,"x2":3,"y":2,"z":0.85},{"x":3,"x2":4,"y":2,"z":0.7},{"x":4,"x2":5,"y":2,"z":0.5},{"x":5,"x2":6,"y":2,"z":0.4},{"x":6,"x2":8,"y":2,"z":0.35},{"x":8,"x2":13,"y":2,"z":0.4},{"x":13,"x2":15,"y":2,"z":0.22},{"x":15,"x2":23,"y":2,"z":0.08},
{"x":-32,"x2":-28,"y":1,"z":0.2},{"x":-28,"x2":-21,"y":1,"z":0.25},{"x":-21,"x2":-19,"y":1,"z":0.28},{"x":-19,"x2":-18,"y":1,"z":0.33},{"x":-18,"x2":-17,"y":1,"z":0.4},{"x":-17,"x2":-16,"y":1,"z":0.45},{"x":-16,"x2":-15,"y":1,"z":0.5},{"x":-15,"x2":-14,"y":1,"z":0.6},{"x":-14,"x2":-13,"y":1,"z":0.7},{"x":-13,"x2":-12,"y":1,"z":0.8},{"x":-12,"x2":-11,"y":1,"z":0.85},{"x":-11,"x2":-10,"y":1,"z":0.95},{"x":-10,"x2":-9,"y":1,"z":1.05},{"x":-9,"x2":-8,"y":1,"z":1.1},{"x":-8,"x2":-6,"y":1,"z":1.2},{"x":-6,"x2":-5,"y":1,"z":1.15},{"x":-5,"x2":-3,"y":1,"z":1.1},{"x":-3,"x2":-2,"y":1,"z":1.2},{"x":-2,"x2":-1,"y":1,"z":1.35},{"x":-1,"x2":0,"y":1,"z":1.3},{"x":0,"x2":1,"y":1,"z":1.1},{"x":1,"x2":2,"y":1,"z":0.85},{"x":2,"x2":3,"y":1,"z":0.7},{"x":3,"x2":4,"y":1,"z":0.6},{"x":4,"x2":5,"y":1,"z":0.5},{"x":5,"x2":8,"y":1,"z":0.45},{"x":8,"x2":12,"y":1,"z":0.5},{"x":12,"x2":13,"y":1,"z":0.4},{"x":13,"x2":14,"y":1,"z":0.3},{"x":14,"x2":15,"y":1,"z":0.2},{"x":15,"x2":23,"y":1,"z":0.08},
{"x":-31,"x2":-26,"y":0,"z":0.15},{"x":-26,"x2":-21,"y":0,"z":0.2},{"x":-21,"x2":-18,"y":0,"z":0.25},{"x":-18,"x2":-15,"y":0,"z":0.3},{"x":-15,"x2":-14,"y":0,"z":0.4},{"x":-14,"x2":-13,"y":0,"z":0.5},{"x":-13,"x2":-12,"y":0,"z":0.55},{"x":-12,"x2":-11,"y":0,"z":0.6},{"x":-11,"x2":-10,"y":0,"z":0.65},{"x":-10,"x2":-9,"y":0,"z":0.7},{"x":-9,"x2":-4,"y":0,"z":0.75},{"x":-4,"x2":-3,"y":0,"z":0.8},{"x":-3,"x2":-2,"y":0,"z":0.9},{"x":-2,"x2":0,"y":0,"z":1.0},{"x":0,"x2":1,"y":0,"z":0.85},{"x":1,"x2":2,"y":0,"z":0.75},{"x":2,"x2":3,"y":0,"z":0.6},{"x":3,"x2":12,"y":0,"z":0.5},{"x":12,"x2":13,"y":0,"z":0.4},{"x":13,"x2":14,"y":0,"z":0.3},{"x":14,"x2":15,"y":0,"z":0.2},{"x":15,"x2":23,"y":0,"z":0.08},
{"x":-31,"x2":-24,"y":-1,"z":0.08},{"x":-24,"x2":-20,"y":-1,"z":0.12},{"x":-20,"x2":-17,"y":-1,"z":0.17},{"x":-17,"x2":-14,"y":-1,"z":0.23},{"x":-14,"x2":-12,"y":-1,"z":0.3},{"x":-12,"x2":-9,"y":-1,"z":0.38},{"x":-9,"x2":-7,"y":-1,"z":0.42},{"x":-7,"x2":-3,"y":-1,"z":0.48},{"x":-3,"x2":-2,"y":-1,"z":0.6},{"x":-2,"x2":0,"y":-1,"z":0.7},{"x":0,"x2":1,"y":-1,"z":0.65},{"x":1,"x2":2,"y":-1,"z":0.6},{"x":2,"x2":3,"y":-1,"z":0.5},{"x":3,"x2":11,"y":-1,"z":0.45},{"x":11,"x2":13,"y":-1,"z":0.35},{"x":13,"x2":15,"y":-1,"z":0.25},{"x":15,"x2":24,"y":-1,"z":0.08},
{"x":-31,"x2":-25,"y":-2,"z":0.05},{"x":-25,"x2":-20,"y":-2,"z":0.09},{"x":-20,"x2":-17,"y":-2,"z":0.13},{"x":-17,"x2":-14,"y":-2,"z":0.18},{"x":-14,"x2":-11,"y":-2,"z":0.24},{"x":-11,"x2":-9,"y":-2,"z":0.3},{"x":-9,"x2":-7,"y":-2,"z":0.36},{"x":-7,"x2":-3,"y":-2,"z":0.42},{"x":-3,"x2":-2,"y":-2,"z":0.5},{"x":-2,"x2":0,"y":-2,"z":0.6},{"x":0,"x2":1,"y":-2,"z":0.55},{"x":1,"x2":2,"y":-2,"z":0.5},{"x":2,"x2":3,"y":-2,"z":0.45},{"x":3,"x2":11,"y":-2,"z":0.4},{"x":11,"x2":14,"y":-2,"z":0.3},{"x":14,"x2":24,"y":-2,"z":0.08},
{"x":-31,"x2":-21,"y":-3,"z":0.05},{"x":-21,"x2":-15,"y":-3,"z":0.1},{"x":-15,"x2":-11,"y":-3,"z":0.14},{"x":-11,"x2":-8,"y":-3,"z":0.19},{"x":-8,"x2":-6,"y":-3,"z":0.24},{"x":-6,"x2":-4,"y":-3,"z":0.3},{"x":-4,"x2":-2,"y":-3,"z":0.38},{"x":-2,"x2":0,"y":-3,"z":0.48},{"x":0,"x2":3,"y":-3,"z":0.55},{"x":3,"x2":5,"y":-3,"z":0.45},{"x":5,"x2":7,"y":-3,"z":0.34},{"x":7,"x2":9,"y":-3,"z":0.24},{"x":9,"x2":12,"y":-3,"z":0.19},{"x":12,"x2":15,"y":-3,"z":0.15},{"x":15,"x2":24,"y":-3,"z":0.09},
{"x":-32,"x2":-21,"y":-4,"z":0.05},{"x":-21,"x2":-15,"y":-4,"z":0.1},{"x":-15,"x2":-11,"y":-4,"z":0.14},{"x":-11,"x2":-8,"y":-4,"z":0.19},{"x":-8,"x2":-6,"y":-4,"z":0.24},{"x":-6,"x2":-4,"y":-4,"z":0.3},{"x":-4,"x2":-2,"y":-4,"z":0.38},{"x":-2,"x2":0,"y":-4,"z":0.48},{"x":0,"x2":3,"y":-4,"z":0.55},{"x":3,"x2":5,"y":-4,"z":0.45},{"x":5,"x2":7,"y":-4,"z":0.34},{"x":7,"x2":9,"y":-4,"z":0.24},{"x":9,"x2":12,"y":-4,"z":0.19},{"x":12,"x2":15,"y":-4,"z":0.15},{"x":15,"x2":25,"y":-4,"z":0.09},
{"x":-32,"x2":-21,"y":-5,"z":0.05},{"x":-21,"x2":-15,"y":-5,"z":0.1},{"x":-15,"x2":-11,"y":-5,"z":0.15},{"x":-11,"x2":-8,"y":-5,"z":0.2},{"x":-8,"x2":-6,"y":-5,"z":0.26},{"x":-6,"x2":-4,"y":-5,"z":0.33},{"x":-4,"x2":-2,"y":-5,"z":0.41},{"x":-2,"x2":0,"y":-5,"z":0.52},{"x":0,"x2":3,"y":-5,"z":0.6},{"x":3,"x2":5,"y":-5,"z":0.49},{"x":5,"x2":7,"y":-5,"z":0.37},{"x":7,"x2":9,"y":-5,"z":0.26},{"x":9,"x2":12,"y":-5,"z":0.2},{"x":12,"x2":15,"y":-5,"z":0.16},{"x":15,"x2":26,"y":-5,"z":0.09},
{"x":-32,"x2":-21,"y":-6,"z":0.05},{"x":-21,"x2":-15,"y":-6,"z":0.11},{"x":-15,"x2":-11,"y":-6,"z":0.16},{"x":-11,"x2":-8,"y":-6,"z":0.22},{"x":-8,"x2":-6,"y":-6,"z":0.28},{"x":-6,"x2":-4,"y":-6,"z":0.35},{"x":-4,"x2":-2,"y":-6,"z":0.44},{"x":-2,"x2":0,"y":-6,"z":0.56},{"x":0,"x2":3,"y":-6,"z":0.65},{"x":3,"x2":5,"y":-6,"z":0.53},{"x":5,"x2":7,"y":-6,"z":0.4},{"x":7,"x2":9,"y":-6,"z":0.28},{"x":9,"x2":12,"y":-6,"z":0.22},{"x":12,"x2":15,"y":-6,"z":0.17},{"x":15,"x2":26,"y":-6,"z":0.1},
{"x":-31,"x2":-21,"y":-7,"z":0.05},{"x":-21,"x2":-15,"y":-7,"z":0.12},{"x":-15,"x2":-11,"y":-7,"z":0.17},{"x":-11,"x2":-8,"y":-7,"z":0.24},{"x":-8,"x2":-6,"y":-7,"z":0.3},{"x":-6,"x2":-4,"y":-7,"z":0.39},{"x":-4,"x2":-2,"y":-7,"z":0.49},{"x":-2,"x2":0,"y":-7,"z":0.62},{"x":0,"x2":3,"y":-7,"z":0.72},{"x":3,"x2":5,"y":-7,"z":0.59},{"x":5,"x2":7,"y":-7,"z":0.44},{"x":7,"x2":9,"y":-7,"z":0.3},{"x":9,"x2":12,"y":-7,"z":0.24},{"x":12,"x2":15,"y":-7,"z":0.18},{"x":15,"x2":27,"y":-7,"z":0.1},
{"x":-31,"x2":-21,"y":-8,"z":0.05},{"x":-21,"x2":-15,"y":-8,"z":0.12},{"x":-15,"x2":-11,"y":-8,"z":0.18},{"x":-11,"x2":-8,"y":-8,"z":0.25},{"x":-8,"x2":-6,"y":-8,"z":0.32},{"x":-6,"x2":-4,"y":-8,"z":0.4},{"x":-4,"x2":-2,"y":-8,"z":0.5},{"x":-2,"x2":0,"y":-8,"z":0.65},{"x":0,"x2":3,"y":-8,"z":0.75},{"x":3,"x2":5,"y":-8,"z":0.61},{"x":5,"x2":7,"y":-8,"z":0.46},{"x":7,"x2":9,"y":-8,"z":0.32},{"x":9,"x2":12,"y":-8,"z":0.25},{"x":12,"x2":15,"y":-8,"z":0.19},{"x":15,"x2":27,"y":-8,"z":0.11},
{"x":-29,"x2":-21,"y":-9,"z":0.05},{"x":-21,"x2":-15,"y":-9,"z":0.12},{"x":-15,"x2":-11,"y":-9,"z":0.18},{"x":-11,"x2":-8,"y":-9,"z":0.25},{"x":-8,"x2":-6,"y":-9,"z":0.32},{"x":-6,"x2":-4,"y":-9,"z":0.4},{"x":-4,"x2":-2,"y":-9,"z":0.5},{"x":-2,"x2":0,"y":-9,"z":0.65},{"x":0,"x2":3,"y":-9,"z":0.75},{"x":3,"x2":5,"y":-9,"z":0.61},{"x":5,"x2":7,"y":-9,"z":0.46},{"x":7,"x2":9,"y":-9,"z":0.32},{"x":9,"x2":12,"y":-9,"z":0.25},{"x":12,"x2":15,"y":-9,"z":0.19},{"x":15,"x2":26,"y":-9,"z":0.11},
{"x":-29,"x2":-21,"y":-10,"z":0.05},{"x":-21,"x2":-15,"y":-10,"z":0.12},{"x":-15,"x2":-11,"y":-10,"z":0.17},{"x":-11,"x2":-8,"y":-10,"z":0.24},{"x":-8,"x2":-6,"y":-10,"z":0.3},{"x":-6,"x2":-4,"y":-10,"z":0.39},{"x":-4,"x2":-2,"y":-10,"z":0.49},{"x":-2,"x2":0,"y":-10,"z":0.62},{"x":0,"x2":3,"y":-10,"z":0.72},{"x":3,"x2":5,"y":-10,"z":0.59},{"x":5,"x2":7,"y":-10,"z":0.44},{"x":7,"x2":9,"y":-10,"z":0.3},{"x":9,"x2":12,"y":-10,"z":0.24},{"x":12,"x2":15,"y":-10,"z":0.18},{"x":15,"x2":26,"y":-10,"z":0.1},
{"x":-29,"x2":-21,"y":-11,"z":0.05},{"x":-21,"x2":-15,"y":-11,"z":0.11},{"x":-15,"x2":-11,"y":-11,"z":0.16},{"x":-11,"x2":-8,"y":-11,"z":0.23},{"x":-8,"x2":-6,"y":-11,"z":0.29},{"x":-6,"x2":-4,"y":-11,"z":0.37},{"x":-4,"x2":-2,"y":-11,"z":0.46},{"x":-2,"x2":0,"y":-11,"z":0.59},{"x":0,"x2":3,"y":-11,"z":0.68},{"x":3,"x2":5,"y":-11,"z":0.55},{"x":5,"x2":7,"y":-11,"z":0.42},{"x":7,"x2":9,"y":-11,"z":0.29},{"x":9,"x2":12,"y":-11,"z":0.23},{"x":12,"x2":15,"y":-11,"z":0.18},{"x":15,"x2":25,"y":-11,"z":0.1},
{"x":-29,"x2":-21,"y":-12,"z":0.05},{"x":-21,"x2":-15,"y":-12,"z":0.11},{"x":-15,"x2":-11,"y":-12,"z":0.16},{"x":-11,"x2":-8,"y":-12,"z":0.22},{"x":-8,"x2":-6,"y":-12,"z":0.28},{"x":-6,"x2":-4,"y":-12,"z":0.35},{"x":-4,"x2":-2,"y":-12,"z":0.44},{"x":-2,"x2":0,"y":-12,"z":0.56},{"x":0,"x2":3,"y":-12,"z":0.65},{"x":3,"x2":5,"y":-12,"z":0.53},{"x":5,"x2":7,"y":-12,"z":0.4},{"x":7,"x2":9,"y":-12,"z":0.28},{"x":9,"x2":12,"y":-12,"z":0.22},{"x":12,"x2":15,"y":-12,"z":0.17},{"x":15,"x2":24,"y":-12,"z":0.1},
{"x":-29,"x2":-21,"y":-13,"z":0.05},{"x":-21,"x2":-15,"y":-13,"z":0.1},{"x":-15,"x2":-11,"y":-13,"z":0.15},{"x":-11,"x2":-8,"y":-13,"z":0.2},{"x":-8,"x2":-6,"y":-13,"z":0.26},{"x":-6,"x2":-4,"y":-13,"z":0.33},{"x":-4,"x2":-2,"y":-13,"z":0.41},{"x":-2,"x2":0,"y":-13,"z":0.52},{"x":0,"x2":3,"y":-13,"z":0.6},{"x":3,"x2":5,"y":-13,"z":0.49},{"x":5,"x2":7,"y":-13,"z":0.37},{"x":7,"x2":9,"y":-13,"z":0.26},{"x":9,"x2":12,"y":-13,"z":0.2},{"x":12,"x2":14,"y":-13,"z":0.16},{"x":17,"x2":18,"y":-13,"z":0.09},
{"x":-29,"x2":-21,"y":-14,"z":0.05},{"x":-21,"x2":-15,"y":-14,"z":0.1},{"x":-15,"x2":-11,"y":-14,"z":0.14},{"x":-11,"x2":-8,"y":-14,"z":0.19},{"x":-8,"x2":-6,"y":-14,"z":0.24},{"x":-6,"x2":-4,"y":-14,"z":0.3},{"x":-4,"x2":-2,"y":-14,"z":0.38},{"x":-2,"x2":0,"y":-14,"z":0.48},{"x":0,"x2":3,"y":-14,"z":0.55},{"x":3,"x2":5,"y":-14,"z":0.45},{"x":5,"x2":7,"y":-14,"z":0.34},{"x":7,"x2":9,"y":-14,"z":0.24},{"x":9,"x2":12,"y":-14,"z":0.19},{"x":12,"x2":14,"y":-14,"z":0.15},
{"x":-28,"x2":-21,"y":-15,"z":0.05},{"x":-21,"x2":-15,"y":-15,"z":0.1},{"x":-15,"x2":-11,"y":-15,"z":0.13},{"x":-11,"x2":-8,"y":-15,"z":0.18},{"x":-8,"x2":-6,"y":-15,"z":0.22},{"x":-6,"x2":-4,"y":-15,"z":0.28},{"x":-4,"x2":-2,"y":-15,"z":0.34},{"x":-2,"x2":0,"y":-15,"z":0.43},{"x":0,"x2":3,"y":-15,"z":0.5},{"x":3,"x2":5,"y":-15,"z":0.41},{"x":5,"x2":7,"y":-15,"z":0.31},{"x":7,"x2":9,"y":-15,"z":0.22},{"x":9,"x2":12,"y":-15,"z":0.18},{"x":12,"x2":14,"y":-15,"z":0.14},
{"x":-27,"x2":-21,"y":-16,"z":0.05},{"x":-21,"x2":-15,"y":-16,"z":0.09},{"x":-15,"x2":-11,"y":-16,"z":0.12},{"x":-11,"x2":-8,"y":-16,"z":0.16},{"x":-8,"x2":-6,"y":-16,"z":0.21},{"x":-6,"x2":-4,"y":-16,"z":0.26},{"x":-4,"x2":-2,"y":-16,"z":0.32},{"x":-2,"x2":0,"y":-16,"z":0.4},{"x":0,"x2":3,"y":-16,"z":0.46},{"x":3,"x2":5,"y":-16,"z":0.38},{"x":5,"x2":7,"y":-16,"z":0.29},{"x":7,"x2":9,"y":-16,"z":0.21},{"x":9,"x2":12,"y":-16,"z":0.16},{"x":12,"x2":14,"y":-16,"z":0.13},
{"x":-25,"x2":-21,"y":-17,"z":0.05},{"x":-21,"x2":-15,"y":-17,"z":0.09},{"x":-15,"x2":-11,"y":-17,"z":0.12},{"x":-11,"x2":-8,"y":-17,"z":0.16},{"x":-8,"x2":-6,"y":-17,"z":0.19},{"x":-6,"x2":-4,"y":-17,"z":0.24},{"x":-4,"x2":-2,"y":-17,"z":0.3},{"x":-2,"x2":0,"y":-17,"z":0.37},{"x":0,"x2":3,"y":-17,"z":0.43},{"x":3,"x2":5,"y":-17,"z":0.35},{"x":5,"x2":7,"y":-17,"z":0.27},{"x":7,"x2":9,"y":-17,"z":0.19},{"x":9,"x2":12,"y":-17,"z":0.16},{"x":12,"x2":14,"y":-17,"z":0.13},
{"x":-25,"x2":-21,"y":-18,"z":0.05},{"x":-21,"x2":-15,"y":-18,"z":0.09},{"x":-15,"x2":-11,"y":-18,"z":0.11},{"x":-11,"x2":-8,"y":-18,"z":0.15},{"x":-8,"x2":-6,"y":-18,"z":0.18},{"x":-6,"x2":-4,"y":-18,"z":0.23},{"x":-4,"x2":-2,"y":-18,"z":0.28},{"x":-2,"x2":0,"y":-18,"z":0.35},{"x":0,"x2":3,"y":-18,"z":0.4},{"x":3,"x2":5,"y":-18,"z":0.33},{"x":5,"x2":7,"y":-18,"z":0.25},{"x":7,"x2":9,"y":-18,"z":0.18},{"x":9,"x2":13,"y":-18,"z":0.14},
{"x":-23,"x2":-15,"y":-19,"z":0.08},{"x":-15,"x2":-11,"y":-19,"z":0.11},{"x":-11,"x2":-8,"y":-19,"z":0.14},{"x":-8,"x2":-6,"y":-19,"z":0.17},{"x":-6,"x2":-4,"y":-19,"z":0.21},{"x":-4,"x2":-2,"y":-19,"z":0.26},{"x":-2,"x2":0,"y":-19,"z":0.32},{"x":0,"x2":3,"y":-19,"z":0.37},{"x":3,"x2":5,"y":-19,"z":0.31},{"x":5,"x2":7,"y":-19,"z":0.24},{"x":7,"x2":9,"y":-19,"z":0.17},{"x":9,"x2":13,"y":-19,"z":0.14},
{"x":-18,"x2":-15,"y":-20,"z":0.08},{"x":-15,"x2":-11,"y":-20,"z":0.1},{"x":-11,"x2":-8,"y":-20,"z":0.13},{"x":-8,"x2":-6,"y":-20,"z":0.16},{"x":-6,"x2":-4,"y":-20,"z":0.2},{"x":-4,"x2":-2,"y":-20,"z":0.24},{"x":-2,"x2":0,"y":-20,"z":0.3},{"x":0,"x2":3,"y":-20,"z":0.34},{"x":3,"x2":5,"y":-20,"z":0.28},{"x":5,"x2":7,"y":-20,"z":0.22},{"x":7,"x2":9,"y":-20,"z":0.16},{"x":9,"x2":13,"y":-20,"z":0.13},
{"x":-17,"x2":-15,"y":-21,"z":0.08},{"x":-15,"x2":-11,"y":-21,"z":0.1},{"x":-11,"x2":-8,"y":-21,"z":0.13},{"x":-8,"x2":-6,"y":-21,"z":0.15},{"x":-6,"x2":-4,"y":-21,"z":0.19},{"x":-4,"x2":-2,"y":-21,"z":0.23},{"x":-2,"x2":0,"y":-21,"z":0.28},{"x":0,"x2":3,"y":-21,"z":0.32},{"x":3,"x2":5,"y":-21,"z":0.27},{"x":5,"x2":7,"y":-21,"z":0.21},{"x":7,"x2":9,"y":-21,"z":0.15},{"x":9,"x2":12,"y":-21,"z":0.13},
{"x":-15,"x2":-13,"y":-22,"z":0.1},{"x":-12,"x2":-11,"y":-22,"z":0.1},{"x":-11,"x2":-8,"y":-22,"z":0.12},{"x":-8,"x2":-6,"y":-22,"z":0.15},{"x":-6,"x2":-4,"y":-22,"z":0.18},{"x":-4,"x2":-2,"y":-22,"z":0.21},{"x":-2,"x2":0,"y":-22,"z":0.26},{"x":0,"x2":3,"y":-22,"z":0.3},{"x":3,"x2":5,"y":-22,"z":0.25},{"x":5,"x2":7,"y":-22,"z":0.2},{"x":7,"x2":9,"y":-22,"z":0.15},{"x":9,"x2":12,"y":-22,"z":0.12},
{"x":-12,"x2":-8,"y":-23,"z":0.12},{"x":-8,"x2":-6,"y":-23,"z":0.14},{"x":-6,"x2":-4,"y":-23,"z":0.17},{"x":-4,"x2":-2,"y":-23,"z":0.2},{"x":-2,"x2":0,"y":-23,"z":0.25},{"x":0,"x2":3,"y":-23,"z":0.28},{"x":3,"x2":5,"y":-23,"z":0.24},{"x":5,"x2":7,"y":-23,"z":0.2},{"x":7,"x2":11,"y":-23,"z":0.14},
{"x":-11,"x2":-8,"y":-24,"z":0.12},{"x":-8,"x2":-6,"y":-24,"z":0.14},{"x":-6,"x2":-4,"y":-24,"z":0.17},{"x":-4,"x2":-2,"y":-24,"z":0.2},{"x":-2,"x2":0,"y":-24,"z":0.24},{"x":0,"x2":3,"y":-24,"z":0.26},{"x":3,"x2":5,"y":-24,"z":0.24},{"x":5,"x2":7,"y":-24,"z":0.2},{"x":7,"x2":10,"y":-24,"z":0.14},
{"x":-11,"x2":-8,"y":-25,"z":0.12},{"x":-8,"x2":-6,"y":-25,"z":0.14},{"x":-6,"x2":-4,"y":-25,"z":0.17},{"x":-4,"x2":-1,"y":-25,"z":0.2},{"x":0,"x2":5,"y":-25,"z":0.25},
{"x":-11,"x2":-8,"y":-26,"z":0.12},{"x":-8,"x2":-6,"y":-26,"z":0.14},{"x":-6,"x2":-4,"y":-26,"z":0.17},{"x":-4,"x2":-1,"y":-26,"z":0.2},
{"x":-11,"x2":-8,"y":-27,"z":0.12},{"x":-8,"x2":-6,"y":-27,"z":0.14},{"x":-6,"x2":-4,"y":-27,"z":0.17},{"x":-4,"x2":-2,"y":-27,"z":0.2},
{"x":-10,"x2":-8,"y":-28,"z":0.12},{"x":-8,"x2":-6,"y":-28,"z":0.14},{"x":-6,"x2":-4,"y":-28,"z":0.16},{"x":-4,"x2":-2,"y":-28,"z":0.18},
{"x":-9,"x2":-6,"y":-29,"z":0.13},{"x":-6,"x2":-3,"y":-29,"z":0.16}
],
"rings":[{"ws":5,"x":0.68,"y":0},{"ws":10,"x":0.68,"y":0},{"ws":15,"x":0.68,"y":0}],
"compass":[
{"part":"NS","o":1,"x":0.68,"y":50.13},{"part":"NS","o":2,"x":0.68,"y":-50.19},
{"part":"WE","o":1,"x":-49.74,"y":0},{"part":"WE","o":2,"x":50.77,"y":0},
{"part":"N","o":1,"x":-1.62,"y":46.16},{"part":"N","o":2,"x":0.68,"y":50.13},{"part":"N","o":3,"x":2.98,"y":46.16},
{"part":"S","o":1,"x":-1.62,"y":-46.22},{"part":"S","o":2,"x":0.68,"y":-50.19},{"part":"S","o":3,"x":2.98,"y":-46.22},
{"part":"W","o":1,"x":-45.77,"y":2.31},{"part":"W","o":2,"x":-49.74,"y":0},{"part":"W","o":3,"x":-45.77,"y":-2.31},
{"part":"E","o":1,"x":46.8,"y":2.31},{"part":"E","o":2,"x":50.77,"y":0},{"part":"E","o":3,"x":46.8,"y":-2.31}
],
"labels":[
{"x":4.02,"y":45.4,"label":"N"},{"x":3.95,"y":-49.55,"label":"S"},{"x":-47.05,"y":1.54,"label":"W"},{"x":48.1,"y":1.54,"label":"E"},
{"x":-27.2,"y":35.26,"label":"15 ws"},{"x":-18.5,"y":22.7,"label":"10"},{"x":-7.5,"y":10.1,"label":"5"}
]
},
"hconcat":[
{
"width":1603,"height":1600,
"view":{"stroke":"black","strokeWidth":7,"fill":"white"},
"encoding":{
"x":{"field":"x","type":"quantitative","axis":null,"scale":{"domain":[-50.83,52.0],"nice":false,"zero":false}},
"y":{"field":"y","type":"quantitative","axis":null,"scale":{"domain":[-51.28,51.28],"nice":false,"zero":false}}
},
"layer":[
{"data":{"name":"cells"},
"mark":{"type":"rect","height":16,"strokeWidth":0.6},
"encoding":{
"x2":{"field":"x2"},
"fill":{"field":"z","type":"quantitative","legend":null,"scale":{"type":"linear","interpolate":"rgb","domain":[0.03,0.81,1.6,2.38,3.17,3.95,4.73,5.52,6.3],"range":["#00007f","#0000ff","#007fff","#00ffff","#7fff7f","#ffff00","#ff7f00","#ff0000","#7f0000"]}},
"stroke":{"field":"z","type":"quantitative","legend":null,"scale":{"type":"linear","interpolate":"rgb","domain":[0.03,0.81,1.6,2.38,3.17,3.95,4.73,5.52,6.3],"range":["#00007f","#0000ff","#007fff","#00ffff","#7fff7f","#ffff00","#ff7f00","#ff0000","#7f0000"]}}
}},
{"data":{"name":"rings"},
"mark":{"type":"point","shape":"circle","filled":false,"opacity":1,"stroke":"#BEBEBE","strokeWidth":4.5,"strokeDash":[52,17]},
"encoding":{
"size":{"field":"ws","type":"quantitative","legend":null,"scale":{"type":"pow","exponent":2,"domain":[0,5,10,15],"range":[0,250000,1040400,2377764]}}
}},
{"data":{"name":"compass"},
"mark":{"type":"line","stroke":"black","strokeWidth":6.5,"strokeJoin":"miter"},
"encoding":{"detail":{"field":"part"},"order":{"field":"o"}}},
{"data":{"name":"labels"},
"mark":{"type":"text","font":"Liberation Sans","fontSize":82,"align":"center","baseline":"alphabetic","fill":"black"},
"encoding":{"text":{"field":"label"}}}
]
},
{
"width":128,"height":1600,
"view":{"stroke":null},
"data":{"values":[{"left":0,"right":1,"low":0.03,"high":6.3}]},
"mark":{"type":"rect","stroke":"black","strokeWidth":7,
"fill":{"x1":0,"y1":1,"x2":0,"y2":0,"gradient":"linear","stops":[{"offset":0,"color":"#00007f"},{"offset":0.125,"color":"#0000ff"},{"offset":0.25,"color":"#007fff"},{"offset":0.375,"color":"#00ffff"},{"offset":0.5,"color":"#7fff7f"},{"offset":0.625,"color":"#ffff00"},{"offset":0.75,"color":"#ff7f00"},{"offset":0.875,"color":"#ff0000"},{"offset":1,"color":"#7f0000"}]}},
"encoding":{
"x":{"field":"left","type":"quantitative","axis":null,"scale":{"domain":[0,1],"nice":false}},
"x2":{"field":"right"},
"y":{"field":"low","type":"quantitative","scale":{"domain":[-0.75,7.093],"nice":false,"zero":false},
"axis":{"orient":"right","values":[1,2,3,4,5,6],"format":"d","title":null,"domain":false,"grid":false,"tickSize":35,"tickWidth":5,"tickColor":"black","labelColor":"black","labelFont":"Liberation Sans","labelFontSize":92,"labelPadding":50}},
"y2":{"field":"high"}
}
}
]
}
